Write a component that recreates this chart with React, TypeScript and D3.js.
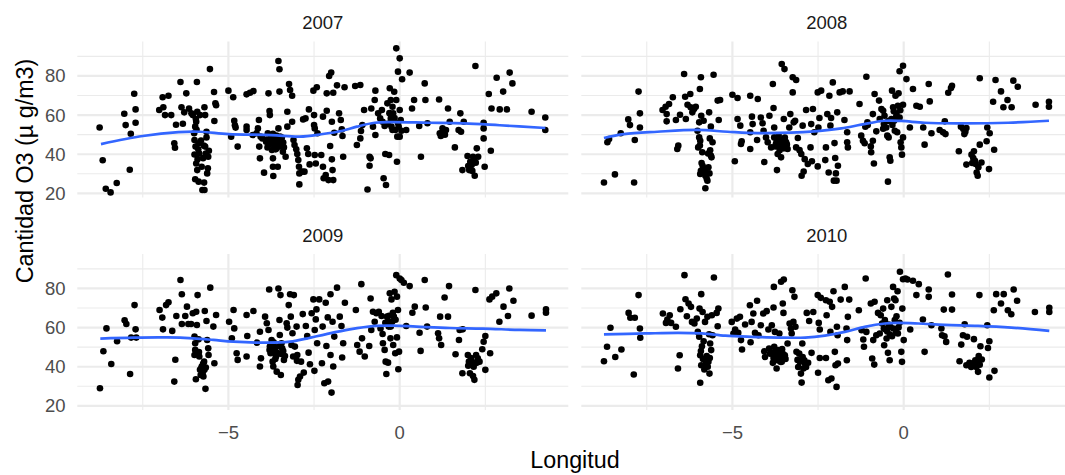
import React from "react";
import * as d3 from "d3";

type P = [number, number];

const years = ["2007", "2008", "2009", "2010"];
const yMajor = [20, 40, 60, 80];
const yMinor = [30, 50, 70, 90];
const xMajor = [-5, 0];
const xMinor = [-7.5, -2.5, 2.5];
const xTitle = "Longitud";
const yTitle = "Cantidad O3 (µ g/m3)";

const pts2007: P[] = [
[-8.76,53.7],[-8.67,36.9],[-8.58,22.4],[-8.44,20.5],[-8.26,25.3],[-8.04,60.7],[-8.0,54.9],[-7.88,32.1],[-7.85,50.5],[-7.75,70.9],[-7.71,56.1],[-7.71,62.9],
[-7.02,62.6],[-6.92,69.1],[-6.9,64.0],[-6.85,60.0],[-6.75,69.9],[-6.67,60.0],[-6.58,45.6],[-6.56,43.3],[-6.53,55.1],[-6.4,76.9],[-6.37,64.0],[-6.33,55.6],
[-6.29,61.4],[-6.23,71.1],[-6.15,63.3],[-6.08,60.9],[-6.04,60.0],[-6.0,50.7],[-5.99,47.3],[-5.97,54.1],[-5.94,56.6],[-5.92,76.9],[-5.91,61.7],[-5.99,39.9],
[-5.96,43.9],[-5.94,35.3],[-5.91,31.9],[-5.87,45.6],[-5.85,40.4],[-5.97,27.2],[-5.87,26.0],[-5.83,60.0],[-5.78,33.6],[-5.76,21.7],[-5.71,25.5],[-5.7,21.7],
[-5.7,64.0],[-5.68,60.0],[-5.68,43.9],[-5.66,40.4],[-5.64,48.6],[-5.64,51.5],[-5.62,30.2],[-5.6,32.8],[-5.59,38.7],[-5.57,41.8],[-5.54,83.5],[-5.42,71.8],
[-5.41,57.0],[-5.38,66.0],[-5.36,65.0],[-5.0,72.5],[-4.92,49.0],[-4.86,69.1],[-4.83,57.1],[-4.81,54.8],[-4.79,53.6],[-4.73,43.9],[-4.47,54.1],[-4.47,52.4],
[-4.47,70.6],[-4.37,71.4],[-4.27,72.3],[-4.29,49.8],[-4.18,50.7],[-4.14,53.2],[-4.11,57.5],[-4.1,43.9],[-4.08,37.9],[-4.06,49.0],[-4.01,48.1],[-3.96,30.6],
[-3.9,46.4],[-3.85,50.7],[-3.83,71.1],[-3.8,62.1],[-3.79,60.0],[-3.75,49.0],[-3.75,45.6],[-3.73,42.2],[-3.7,37.9],[-3.7,33.6],[-3.69,28.9],[-3.64,48.1],
[-3.62,45.6],[-3.59,43.0],[-3.56,33.6],[-3.54,87.6],[-3.51,83.4],[-3.54,53.2],[-3.51,72.0],[-3.49,49.0],[-3.46,47.3],[-3.41,41.3],[-3.38,43.5],[-3.33,38.7],
[-3.28,54.1],[-3.28,61.7],[-3.23,75.9],[-3.2,72.8],[-3.14,69.9],[-3.14,56.6],[-3.1,47.3],[-3.07,44.7],[-3.02,42.5],[-2.99,40.1],[-2.96,37.0],[-2.94,33.6],
[-2.93,30.2],[-2.93,24.6],[-2.85,31.1],[-2.82,57.8],[-2.75,58.3],[-2.78,31.1],[-2.71,43.0],[-2.67,40.1],[-2.65,62.9],[-2.63,34.8],[-2.52,72.5],[-2.5,60.0],
[-2.5,54.9],[-2.48,53.2],[-2.48,39.6],[-2.45,35.3],[-2.42,74.2],[-2.4,50.7],[-2.29,39.6],[-2.24,33.6],[-2.24,59.2],[-2.22,27.7],[-2.16,29.4],[-2.13,62.2],
[-2.13,71.1],[-2.08,26.8],[-2.06,80.0],[-2.03,44.2],[-2.0,81.7],[-1.98,56.6],[-1.98,37.4],[-1.96,31.9],[-1.94,71.4],[-1.94,26.8],[-1.91,51.0],[-1.83,75.2],
[-1.77,60.9],[-1.72,57.5],[-1.69,52.7],[-1.67,49.3],[-1.65,38.7],[-1.61,74.2],[-1.3,74.9],[-1.25,44.7],[-1.15,75.4],[-1.15,48.1],[-1.13,51.9],[-1.09,54.9],
[-1.04,62.6],[-0.94,22.0],[-0.88,38.7],[-0.88,34.1],[-0.85,37.9],[-0.83,63.4],[-0.78,54.1],[-0.73,67.7],[-0.71,49.8],[-0.71,72.5],[-0.63,60.9],[-0.57,58.3],
[-0.52,62.6],[-0.5,56.6],[-0.47,27.7],[-0.44,54.4],[-0.42,40.1],[-0.4,24.3],[-0.36,66.0],[-0.31,39.6],[-0.29,73.7],[-0.26,58.3],[-0.26,67.7],[-0.24,54.1],
[-0.21,52.4],[-0.21,64.3],[-0.19,60.9],[-0.16,71.9],[-0.13,52.4],[-0.1,94.1],[-0.1,67.7],[-0.08,36.2],[-0.07,49.0],[-0.05,82.2],[-0.03,54.1],[0.0,89.0],
[0.0,49.0],[0.0,62.6],[0.03,57.5],[0.07,78.3],[0.19,52.4],[0.29,81.7],[0.36,63.4],[0.42,67.7],[0.57,54.4],[0.62,38.7],[0.73,76.2],[0.75,67.7],
[0.81,55.8],[1.15,68.0],[1.17,50.7],[1.2,49.3],[1.25,53.2],[1.3,52.4],[1.35,52.4],[1.41,63.4],[1.46,56.6],[1.61,43.5],[1.72,52.4],[1.77,60.9],
[1.79,51.5],[1.83,31.9],[1.87,56.6],[1.98,39.1],[2.03,31.9],[2.06,36.2],[2.1,34.5],[2.14,38.7],[2.19,29.0],[2.21,85.1],[2.22,35.7],[2.25,43.0],
[2.29,38.7],[2.45,56.1],[2.45,53.2],[2.45,48.1],[2.48,33.6],[2.6,70.8],[2.66,41.8],[2.68,63.4],[2.83,79.1],[2.92,62.9],[3.02,72.0],[3.13,62.9],
[3.21,81.7],[3.29,76.2],[3.85,61.7],[4.25,58.8],[4.25,52.4],
[-3.88,47.5],[-3.82,45.0],[-3.78,47.0],[-3.72,48.5],[-3.68,46.5],[-3.66,44.0],[-3.6,49.5],[-3.57,46.8],[-3.52,45.2],[-3.48,44.0],[-3.44,48.5],[-3.4,46.0],
[-3.62,42.5],[-3.7,50.5],[-3.86,43.5],[-5.95,58.0],[-5.93,52.5],[-5.9,37.5],[-5.88,42.5],[-5.8,47.0],[-5.74,38.0],[-5.72,44.5],[-0.35,55.5],[-0.3,61.0],
[-0.15,58.5],[-0.05,56.0],[0.05,52.0],[2.0,34.0],[2.12,31.5],[2.17,36.8],[1.25,51.0],[1.32,50.0]
];

const pts2008: P[] = [
[-8.75,25.6],[-8.65,46.1],[-8.6,47.8],[-8.43,29.7],[-8.26,50.7],[-8.04,57.8],[-7.99,54.9],[-7.87,25.6],[-7.85,47.3],[-7.74,72.0],[-7.7,60.9],[-7.7,53.7],
[-7.04,62.6],[-6.95,64.3],[-6.92,60.5],[-6.92,56.8],[-6.85,65.7],[-6.74,69.1],[-6.65,57.5],[-6.61,42.7],[-6.58,44.4],[-6.53,60.2],[-6.41,81.0],[-6.36,58.0],
[-6.38,69.4],[-6.31,65.3],[-6.23,70.8],[-6.22,64.0],[-6.17,61.4],[-6.12,63.1],[-6.07,64.3],[-6.02,52.0],[-5.97,56.3],[-5.95,73.3],[-5.97,48.6],[-6.0,43.5],
[-5.94,46.9],[-5.92,79.3],[-5.91,59.7],[-5.88,41.0],[-5.87,34.1],[-5.94,29.9],[-5.85,31.6],[-5.84,57.1],[-5.79,22.6],[-5.79,29.0],[-5.73,26.5],[-5.7,33.3],
[-5.67,30.2],[-5.71,40.4],[-5.66,48.1],[-5.63,39.3],[-5.61,38.4],[-5.63,54.1],[-5.68,61.4],[-5.58,46.1],[-5.55,80.6],[-5.43,67.4],[-5.4,57.5],[-5.36,67.7],
[-5.0,70.4],[-4.93,36.4],[-4.85,68.7],[-4.85,58.0],[-4.77,54.6],[-4.75,45.2],[-4.73,46.6],[-4.48,69.9],[-4.48,51.2],[-4.48,42.7],[-4.43,59.2],[-4.41,55.4],
[-4.26,68.2],[-4.28,47.3],[-4.17,58.8],[-4.12,55.8],[-4.09,52.0],[-4.07,36.0],[-4.02,48.6],[-3.97,46.1],[-3.92,59.7],[-3.87,43.5],[-3.82,75.9],[-3.8,63.6],
[-3.78,53.7],[-3.78,48.6],[-3.73,45.2],[-3.7,31.9],[-3.68,40.1],[-3.66,47.8],[-3.63,43.5],[-3.6,46.1],[-3.58,38.4],[-3.56,86.1],[-3.53,44.4],[-3.5,58.0],
[-3.48,83.5],[-3.46,46.9],[-3.41,44.9],[-3.39,42.7],[-3.34,53.7],[-3.31,60.5],[-3.24,71.6],[-3.24,79.3],[-3.21,56.3],[-3.17,57.1],[-3.14,77.9],[-3.14,43.5],
[-3.09,48.3],[-3.04,42.1],[-2.99,40.1],[-2.98,29.0],[-2.95,54.6],[-2.92,31.2],[-2.89,37.5],[-2.85,62.6],[-2.8,35.0],[-2.72,43.5],[-2.7,55.4],[-2.68,36.4],
[-2.65,63.1],[-2.61,51.2],[-2.51,33.8],[-2.49,53.7],[-2.46,58.5],[-2.51,71.6],[-2.41,72.5],[-2.29,37.0],[-2.27,43.5],[-2.23,60.5],[-2.19,30.7],[-2.17,69.9],
[-2.14,54.6],[-2.12,58.5],[-2.07,76.7],[-2.04,26.5],[-2.02,45.7],[-2.0,38.1],[-1.98,30.2],[-1.96,26.5],[-1.94,61.4],[-1.92,34.1],[-1.87,71.6],[-1.78,72.1],
[-1.73,57.5],[-1.65,51.2],[-1.65,46.1],[-1.63,43.5],[-1.58,72.1],[-1.29,65.7],[-1.24,49.5],[-1.19,46.9],[-1.14,45.6],[-1.12,54.1],[-1.09,79.6],[-1.06,56.3],
[-0.95,41.0],[-0.9,46.9],[-0.9,60.5],[-0.87,35.3],[-0.85,70.8],[-0.8,51.7],[-0.72,67.4],[-0.7,58.0],[-0.65,63.1],[-0.6,62.2],[-0.58,55.4],[-0.56,59.7],
[-0.51,53.7],[-0.48,49.5],[-0.46,26.0],[-0.44,48.6],[-0.41,38.4],[-0.39,36.7],[-0.36,58.0],[-0.34,72.5],[-0.31,64.0],[-0.28,57.1],[-0.26,52.0],[-0.24,69.9],
[-0.21,60.5],[-0.19,51.2],[-0.17,64.8],[-0.15,71.1],[-0.12,58.8],[-0.12,82.4],[-0.09,46.1],[-0.07,43.5],[-0.05,39.8],[-0.02,85.2],[-0.02,48.6],[-0.02,65.3],
[0.08,78.4],[0.18,53.7],[0.27,73.3],[0.37,64.8],[0.47,64.3],[0.57,53.7],[0.61,44.9],[0.73,75.9],[0.76,67.0],[0.81,50.7],[1.05,52.4],[1.15,51.2],
[1.2,56.8],[1.22,50.3],[1.3,71.4],[1.38,73.8],[1.41,75.0],[1.61,41.5],[1.67,54.1],[1.74,52.9],[1.77,50.3],[1.83,53.4],[1.83,34.7],[1.98,39.8],
[2.03,38.1],[2.08,36.7],[2.13,30.7],[2.16,29.0],[2.18,33.3],[2.22,78.8],[2.22,44.9],[2.27,35.8],[2.42,46.6],[2.44,53.7],[2.49,32.4],[2.51,50.7],
[2.61,66.8],[2.64,42.3],[2.68,77.9],[2.84,72.1],[2.91,64.0],[3.03,67.7],[3.15,64.0],[3.2,77.6],[3.33,74.5],[3.85,65.3],[4.24,66.8],[4.24,64.3],
[-3.75,44.0],[-3.71,46.5],[-3.67,44.8],[-3.62,42.0],[-3.58,47.5],[-3.55,45.5],[-3.5,43.0],[-3.47,48.5],[-3.43,46.0],[-3.65,49.5],[-5.92,31.5],[-5.83,30.5],
[-5.78,32.5],[-5.75,27.5],[-5.9,35.5],[-5.65,42.0],[-5.95,44.5],[-0.33,55.0],[-0.29,62.0],[-0.22,59.0],[-0.1,62.5],[-0.45,57.0],[-0.6,53.0],[2.1,35.0],
[2.05,41.5],[2.0,35.5],[1.8,51.5],[-1.05,55.0],[-0.96,44.0]
];

const pts2009: P[] = [
[-8.75,29.0],[-8.65,47.9],[-8.56,59.6],[-8.42,41.4],[-8.25,53.0],[-8.03,63.7],[-7.98,61.8],[-7.87,36.3],[-7.84,54.9],[-7.74,71.5],[-7.71,59.1],[-7.69,54.9],
[-7.01,69.0],[-6.93,65.1],[-6.91,59.1],[-6.82,71.5],[-6.75,72.9],[-6.64,58.3],[-6.58,32.4],[-6.55,43.6],[-6.52,65.9],[-6.4,84.3],[-6.36,77.0],[-6.36,61.8],
[-6.26,65.9],[-6.21,70.7],[-6.17,61.8],[-6.09,61.8],[-6.04,67.3],[-5.99,55.4],[-5.97,52.0],[-5.97,48.6],[-5.99,46.0],[-5.95,33.6],[-5.94,68.1],[-5.92,61.3],
[-5.9,76.6],[-5.87,54.0],[-5.85,45.2],[-5.83,38.4],[-5.81,35.8],[-5.78,40.1],[-5.75,37.0],[-5.73,35.0],[-5.71,42.6],[-5.69,68.5],[-5.67,28.7],[-5.66,39.6],
[-5.64,63.4],[-5.62,53.7],[-5.59,49.4],[-5.58,46.0],[-5.53,80.4],[-5.44,60.5],[-5.41,41.8],[-5.36,66.4],[-4.98,63.0],[-4.9,54.5],[-4.85,69.0],[-4.83,59.6],
[-4.76,46.9],[-4.73,43.5],[-4.47,66.4],[-4.47,45.2],[-4.45,55.7],[-4.27,68.5],[-4.17,52.3],[-4.08,40.1],[-4.08,57.9],[-4.05,44.3],[-3.93,65.6],[-3.88,62.2],
[-3.83,58.8],[-3.81,79.5],[-3.79,50.3],[-3.77,46.9],[-3.74,53.7],[-3.71,42.6],[-3.69,40.1],[-3.67,50.3],[-3.64,48.6],[-3.61,45.2],[-3.59,37.5],[-3.54,80.0],
[-3.51,63.9],[-3.5,56.2],[-3.48,76.6],[-3.47,35.8],[-3.45,52.0],[-3.43,49.4],[-3.38,43.5],[-3.3,62.2],[-3.28,60.0],[-3.24,71.5],[-3.2,77.0],[-3.18,65.6],
[-3.16,51.1],[-3.13,57.1],[-3.11,45.2],[-3.09,76.6],[-3.06,50.3],[-3.01,60.5],[-2.98,30.7],[-2.96,33.3],[-2.91,35.0],[-2.88,42.6],[-2.83,66.9],[-2.8,37.0],
[-2.74,60.8],[-2.7,55.7],[-2.66,47.2],[-2.62,41.3],[-2.57,67.3],[-2.52,74.4],[-2.49,37.9],[-2.48,58.8],[-2.45,64.2],[-2.43,69.3],[-2.41,52.0],[-2.35,74.4],
[-2.27,41.8],[-2.25,60.5],[-2.2,31.6],[-2.16,72.7],[-2.14,50.6],[-2.1,65.2],[-2.09,32.4],[-2.02,77.0],[-2.02,46.0],[-1.99,26.8],[-1.96,63.0],[-1.94,40.1],
[-1.91,55.4],[-1.83,80.4],[-1.75,65.6],[-1.7,60.8],[-1.68,44.7],[-1.65,52.0],[-1.6,72.7],[-1.28,69.0],[-1.24,51.1],[-1.17,47.7],[-1.12,82.2],[-1.1,54.5],
[-1.02,45.2],[-0.89,50.6],[-0.85,74.9],[-0.83,58.8],[-0.78,68.1],[-0.73,63.0],[-0.68,67.3],[-0.61,68.1],[-0.56,59.6],[-0.53,65.9],[-0.5,56.7],[-0.49,52.0],
[-0.44,48.6],[-0.41,42.6],[-0.39,36.3],[-0.37,65.6],[-0.34,42.1],[-0.32,60.5],[-0.29,77.5],[-0.27,54.5],[-0.24,74.4],[-0.22,63.0],[-0.19,51.1],[-0.17,65.6],
[-0.15,78.3],[-0.13,46.9],[-0.1,86.8],[-0.08,75.8],[-0.05,69.0],[-0.04,38.7],[-0.02,47.7],[0.0,85.1],[0.05,84.3],[0.12,82.9],[0.19,60.8],[0.29,81.2],
[0.37,67.6],[0.44,70.7],[0.58,57.4],[0.61,48.1],[0.73,84.3],[0.76,70.3],[0.8,60.5],[1.12,57.1],[1.15,54.5],[1.18,65.6],[1.21,51.1],[1.31,75.4],
[1.41,65.6],[1.44,81.2],[1.63,46.4],[1.73,53.7],[1.75,58.8],[1.83,36.7],[1.84,59.1],[1.99,46.0],[2.02,42.6],[2.05,36.7],[2.11,42.6],[2.14,35.3],
[2.18,33.3],[2.21,79.2],[2.23,46.0],[2.28,44.3],[2.33,42.6],[2.41,48.9],[2.45,52.8],[2.5,38.4],[2.5,55.7],[2.64,46.9],[2.62,74.4],[2.7,75.8],
[2.82,77.5],[2.91,63.0],[3.03,70.7],[3.16,65.9],[3.2,80.0],[3.32,73.7],[3.85,66.1],[4.27,69.3],[4.27,67.6],
[-3.8,48.5],[-3.76,51.0],[-3.72,47.5],[-3.68,52.5],[-3.63,44.0],[-3.56,47.0],[-3.52,50.5],[-3.46,46.5],[-3.4,48.0],[-3.35,45.5],[-5.8,39.0],[-5.77,36.0],
[-5.7,38.5],[-5.74,41.5],[-5.86,47.5],[-0.35,63.0],[-0.31,66.0],[-0.26,60.5],[-0.2,67.5],[-0.42,62.5],[-0.12,64.0],[-0.08,55.0],[2.08,44.5],[2.16,40.0],
[2.25,42.0],[2.0,40.5],[-2.99,46.0],[-3.0,43.0]
];

const pts2010: P[] = [
[-8.75,42.8],[-8.66,50.2],[-8.56,59.9],[-8.42,45.0],[-8.24,48.8],[-8.03,67.5],[-7.98,65.0],[-7.88,36.0],[-7.85,65.0],[-7.74,76.6],[-7.7,59.5],[-7.69,54.8],
[-7.03,67.2],[-6.94,62.4],[-6.9,64.1],[-6.83,66.3],[-6.79,62.4],[-6.65,60.4],[-6.59,39.1],[-6.54,45.9],[-6.52,69.4],[-6.4,86.8],[-6.37,74.5],[-6.33,65.8],
[-6.28,72.3],[-6.21,70.6],[-6.18,62.9],[-6.11,62.1],[-6.04,64.6],[-6.01,57.8],[-5.97,55.3],[-5.96,69.7],[-5.94,45.9],[-5.91,77.1],[-5.94,31.8],[-5.91,40.8],
[-5.89,50.5],[-5.87,68.0],[-5.84,53.0],[-5.82,38.6],[-5.8,62.9],[-5.77,41.1],[-5.75,45.4],[-5.73,65.5],[-5.7,42.5],[-5.68,56.6],[-5.67,36.5],[-5.65,51.9],
[-5.62,48.5],[-5.6,66.3],[-5.58,56.1],[-5.54,85.6],[-5.46,67.5],[-5.43,60.7],[-5.41,69.7],[-5.02,62.9],[-4.97,57.0],[-4.92,59.0],[-4.87,64.6],[-4.83,57.3],
[-4.78,65.5],[-4.75,53.6],[-4.72,48.8],[-4.63,61.6],[-4.49,71.4],[-4.47,52.5],[-4.44,62.9],[-4.39,67.2],[-4.34,57.3],[-4.28,73.7],[-4.24,56.1],[-4.17,61.2],
[-4.1,67.2],[-4.07,47.9],[-4.05,45.0],[-4.0,68.4],[-3.95,59.0],[-3.93,49.3],[-3.9,46.7],[-3.85,61.2],[-3.82,42.0],[-3.8,70.3],[-3.79,80.8],[-3.78,50.2],
[-3.76,57.8],[-3.74,45.9],[-3.71,39.1],[-3.69,43.3],[-3.66,48.5],[-3.63,57.0],[-3.61,45.0],[-3.58,83.4],[-3.56,42.5],[-3.53,72.3],[-3.51,67.5],[-3.5,84.6],
[-3.47,45.9],[-3.39,51.9],[-3.33,62.1],[-3.29,59.5],[-3.27,57.0],[-3.25,79.1],[-3.22,62.9],[-3.19,75.7],[-3.16,60.4],[-3.13,47.6],[-3.08,39.9],[-3.05,46.7],
[-3.03,42.5],[-3.0,36.5],[-2.98,31.9],[-2.96,51.9],[-2.93,39.1],[-2.9,43.3],[-2.85,39.9],[-2.83,67.5],[-2.79,42.0],[-2.76,63.4],[-2.69,47.1],[-2.64,68.0],
[-2.51,76.6],[-2.5,36.9],[-2.48,62.4],[-2.45,59.0],[-2.42,75.2],[-2.45,44.5],[-2.27,44.5],[-2.27,74.0],[-2.25,66.3],[-2.2,33.1],[-2.16,73.2],[-2.14,57.8],
[-2.11,34.0],[-2.09,70.6],[-2.05,78.6],[-2.01,47.6],[-1.99,40.8],[-1.96,29.7],[-1.95,60.4],[-1.93,56.1],[-1.92,41.6],[-1.84,74.3],[-1.72,80.8],[-1.67,59.5],
[-1.66,43.3],[-1.65,53.6],[-1.63,65.5],[-1.59,74.3],[-1.31,68.9],[-1.23,58.7],[-1.18,53.9],[-1.16,50.2],[-1.11,85.1],[-1.09,57.8],[-0.96,72.3],[-0.92,44.2],
[-0.89,53.6],[-0.86,41.1],[-0.85,73.2],[-0.8,56.1],[-0.75,67.5],[-0.7,57.0],[-0.67,66.3],[-0.63,62.1],[-0.6,69.7],[-0.57,51.0],[-0.55,63.8],[-0.53,59.0],
[-0.5,54.4],[-0.48,74.0],[-0.46,47.1],[-0.41,43.3],[-0.39,60.4],[-0.36,70.6],[-0.34,55.6],[-0.31,80.8],[-0.28,74.9],[-0.26,63.8],[-0.24,74.0],[-0.21,65.8],
[-0.18,78.6],[-0.17,57.0],[-0.15,60.1],[-0.11,88.5],[-0.07,47.6],[-0.05,42.5],[-0.04,69.7],[-0.02,84.7],[0.0,53.6],[0.05,85.1],[0.11,84.6],[0.19,59.0],
[0.27,83.9],[0.37,76.6],[0.44,82.2],[0.56,64.1],[0.61,47.6],[0.73,79.5],[0.73,75.7],[0.81,61.2],[1.1,59.5],[1.12,56.1],[1.17,69.2],[1.19,55.6],
[1.24,52.7],[1.29,87.1],[1.41,76.9],[1.41,69.2],[1.63,42.8],[1.68,51.3],[1.73,56.1],[1.78,61.7],[1.83,40.8],[1.85,55.3],[1.92,42.0],[1.97,39.9],
[2.05,54.1],[2.09,43.3],[2.12,39.9],[2.17,37.4],[2.19,45.4],[2.21,76.6],[2.24,50.5],[2.28,43.7],[2.44,61.2],[2.46,49.6],[2.5,53.0],[2.5,34.5],
[2.63,68.9],[2.65,37.9],[2.7,77.1],[2.84,72.3],[2.92,77.1],[3.04,68.9],[3.14,66.8],[3.21,79.5],[3.31,73.7],[3.83,68.0],[4.25,70.1],[4.25,68.0],
[-3.84,47.0],[-3.8,44.5],[-3.75,48.0],[-3.72,46.5],[-3.68,44.0],[-3.64,47.5],[-3.6,42.5],[-3.55,49.0],[-3.52,46.5],[-3.45,44.0],[-5.86,44.0],[-5.78,43.0],
[-5.72,40.0],[-5.66,44.5],[-5.92,48.0],[-0.48,58.0],[-0.44,61.5],[-0.4,56.5],[-0.3,59.5],[-0.22,57.5],[-0.12,62.5],[-0.58,59.5],[2.14,42.5],[2.22,41.0],
[2.0,41.5],[-2.88,41.5],[-2.95,45.0],[-3.1,43.5]
];

const smooth2007: P[] = [[-8.72,45.2],[-7.5,49.3],[-6.46,51.3],[-5.83,51.5],[-5.0,50.3],[-3.75,49.8],[-2.92,49.0],[-2.29,50.2],[-1.67,52.0],[-1.25,54.1],[-0.73,56.1],[-0.21,56.4],[0.83,56.1],[1.87,55.8],[2.92,54.8],[4.25,53.4]];
const smooth2008: P[] = [[-8.75,48.3],[-8.17,50.3],[-7.19,51.5],[-6.02,52.4],[-5.14,51.5],[-4.26,50.8],[-3.29,51.0],[-2.6,51.7],[-1.82,53.2],[-1.24,55.1],[-0.56,57.1],[-0.07,57.0],[0.61,56.1],[1.59,55.8],[3.05,56.1],[4.24,57.1]];
const smooth2009: P[] = [[-8.74,54.4],[-7.77,54.9],[-6.8,55.0],[-6.02,54.5],[-5.44,53.7],[-4.85,52.8],[-3.88,52.3],[-3.2,52.8],[-2.72,54.4],[-2.14,56.7],[-1.46,59.1],[-0.78,60.8],[-0.19,61.0],[0.49,60.5],[1.46,59.8],[2.43,59.5],[3.5,58.8],[4.27,58.6]];
const smooth2010: P[] = [[-8.75,56.5],[-7.54,57.0],[-6.57,57.3],[-5.89,57.0],[-5.21,55.9],[-4.44,55.3],[-3.66,54.9],[-2.88,54.9],[-2.3,55.9],[-1.72,57.8],[-1.14,60.4],[-0.55,62.1],[-0.17,62.4],[0.42,62.1],[1.19,61.4],[2.17,60.9],[3.14,60.0],[4.25,58.3]];

const pointsByYear = [pts2007, pts2008, pts2009, pts2010];
const smoothByYear = [smooth2007, smooth2008, smooth2009, smooth2010];

const FONT = "'Liberation Sans', Arial, Helvetica, sans-serif";

export default function App() {
  const W = 1065, H = 475;
  const colLeft = [77.3, 581.3];
  const panelW = 491;
  const rowTop = [41.5, 254];
  const panelH = 156;

  const all = pointsByYear.flat();
  const [xmin, xmax] = d3.extent(all, d => d[0]) as [number, number];
  const xpad = (xmax - xmin) * 0.05;
  const xDomain: [number, number] = [xmin - xpad, xmax + xpad];
  const yDomain: [number, number] = [17.9, 97.6];

  const panels = years.map((yr, i) => {
    const col = i % 2, row = Math.floor(i / 2);
    const x = d3.scaleLinear().domain(xDomain).range([colLeft[col], colLeft[col] + panelW]);
    const y = d3.scaleLinear().domain(yDomain).range([rowTop[row] + panelH, rowTop[row]]);
    return { yr, i, col, row, x, y };
  });

  return (
    <svg width={W} height={H} style={{ position: "absolute", left: 0, top: 0, display: "block", background: "#fff" }} fontFamily={FONT}>
      <rect width={W} height={H} fill="#fff" />
      {panels.map(p => {
        const x0 = p.x.range()[0], x1 = p.x.range()[1];
        const yb = p.y.range()[0], yt = p.y.range()[1];
        const line = d3.line<P>().x(d => p.x(d[0])).y(d => p.y(d[1])).curve(d3.curveCatmullRom.alpha(0.5));
        return (
          <g key={p.yr}>
            {yMinor.map(v => (
              <line key={"ym" + v} x1={x0} x2={x1} y1={p.y(v)} y2={p.y(v)} stroke="#EBEBEB" strokeWidth={1.1} />
            ))}
            {xMinor.map(v => (
              <line key={"xm" + v} x1={p.x(v)} x2={p.x(v)} y1={yt} y2={yb} stroke="#EBEBEB" strokeWidth={1.1} />
            ))}
            {yMajor.map(v => (
              <line key={"yM" + v} x1={x0} x2={x1} y1={p.y(v)} y2={p.y(v)} stroke="#EBEBEB" strokeWidth={2.2} />
            ))}
            {xMajor.map(v => (
              <line key={"xM" + v} x1={p.x(v)} x2={p.x(v)} y1={yt} y2={yb} stroke="#EBEBEB" strokeWidth={2.2} />
            ))}
            <text x={(x0 + x1) / 2} y={p.row === 0 ? 28.5 : 241.5} textAnchor="middle" fontSize={18.5} fill="#1A1A1A">{p.yr}</text>
            {pointsByYear[p.i].map((d, k) => (
              <circle key={k} cx={p.x(d[0])} cy={p.y(d[1])} r={3.3} fill="#000" />
            ))}
            <path d={line(smoothByYear[p.i]) || ""} fill="none" stroke="#3366FF" strokeWidth={2.7} />
            {p.col === 0 && yMajor.map(v => (
              <text key={"yl" + v} x={65.5} y={p.y(v)} dy="0.35em" textAnchor="end" fontSize={18.5} fill="#4D4D4D">{v}</text>
            ))}
            {p.row === 1 && xMajor.map(v => (
              <text key={"xl" + v} x={p.x(v)} y={439.3} textAnchor="middle" fontSize={18.5} fill="#4D4D4D">{v < 0 ? "\u2212" + Math.abs(v) : String(v)}</text>
            ))}
          </g>
        );
      })}
      <text x={575} y={468.3} textAnchor="middle" fontSize={23.3} fill="#000">{xTitle}</text>
      <text transform={`translate(32.5,171) rotate(-90)`} textAnchor="middle" fontSize={23.3} fill="#000">{yTitle}</text>
    </svg>
  );
}
